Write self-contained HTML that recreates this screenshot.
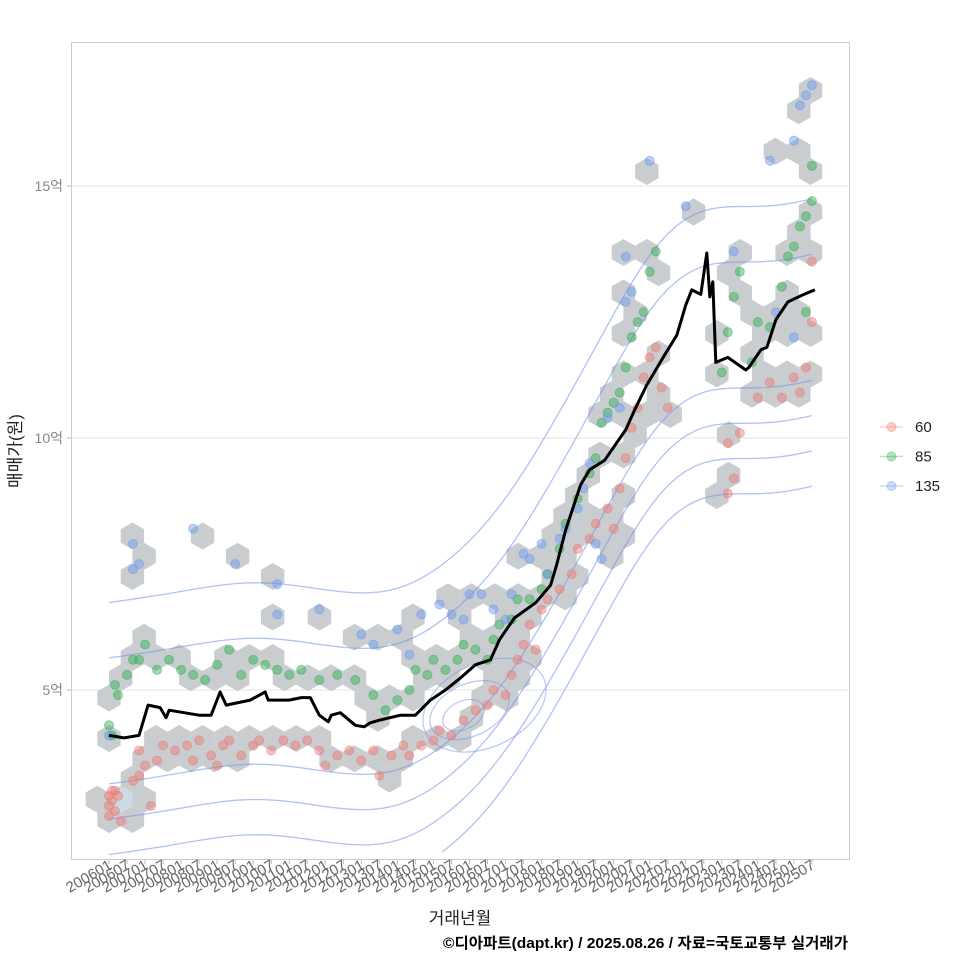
<!DOCTYPE html>
<html><head><meta charset="utf-8">
<style>
html,body{margin:0;padding:0;background:#fff;}
svg{display:block;font-family:"Liberation Sans","Noto Sans CJK KR",sans-serif;}
</style></head>
<body>
<svg id="chart" width="960" height="960" viewBox="0 0 960 960" xmlns="http://www.w3.org/2000/svg">
<rect x="0" y="0" width="960" height="960" fill="#fff"/>
<g id="grid"></g>
<g id="hexes"></g>
<g id="contours"></g>
<g id="points"></g>
<g id="line"></g>
<rect x="71.5" y="42.5" width="778" height="817" fill="none" stroke="#cccccc" stroke-width="1"/>
<g id="axes"></g>
<text x="460" y="924" font-size="17" fill="#222" text-anchor="middle">거래년월</text>
<text transform="translate(21,451) rotate(-90)" font-size="17" fill="#222" text-anchor="middle">매매가(원)</text>
<text x="848" y="948" font-size="15" font-weight="bold" fill="#000" text-anchor="end" textLength="405" lengthAdjust="spacingAndGlyphs">©디아파트(dapt.kr) / 2025.08.26 / 자료=국토교통부 실거래가</text>
<g id="legend"></g>
</svg>
<script>
// ---- data ----
const lineMonths = [0,5,10,13,17,19,20,30,34,37,39,47,52,53,57,60,64,67,70,73,74,77,82,85,87,90,97,102,107,112,117,122,127,130,135,142,147,149,152,157,160,165,168,172,175,179,182,185,189,192,194,197,199,200,201,202,206,212,213,217,219,222,226,231,235];
const lineValues = [4.1,4.05,4.1,4.7,4.65,4.45,4.6,4.5,4.5,4.96,4.7,4.8,4.96,4.8,4.8,4.8,4.85,4.85,4.5,4.37,4.5,4.55,4.3,4.27,4.35,4.4,4.5,4.5,4.8,5.0,5.24,5.5,5.6,6.0,6.43,6.73,7.08,7.48,8.17,9.07,9.37,9.56,9.82,10.16,10.56,11.05,11.35,11.65,12.04,12.64,12.94,12.85,13.67,12.8,13.1,11.5,11.6,11.35,11.4,11.75,11.8,12.35,12.7,12.84,12.94];

const redMonths = [0,0,1,1,2,2,3,0,4,8,10,12,10,14,16,18,22,26,28,30,34,36,38,40,44,48,50,54,58,62,66,70,72,76,80,84,88,90,94,98,100,104,108,110,114,118,122,126,128,132,134,136,138,140,142,144,146,150,154,156,160,162,166,168,170,172,174,176,178,180,182,184,186,206,208,206,210,216,220,224,228,230,232,234,234];
const redValues = [2.7,2.9,3.0,2.8,2.6,3.0,2.9,2.5,2.4,3.2,3.3,3.5,3.8,2.7,3.6,3.9,3.8,3.9,3.6,4.0,3.7,3.5,3.9,4.0,3.7,3.9,4.0,3.8,4.0,3.9,4.0,3.8,3.5,3.7,3.8,3.6,3.8,3.3,3.7,3.9,3.7,3.9,4.0,4.2,4.1,4.4,4.6,4.7,5.0,4.9,5.3,5.6,5.9,6.3,5.8,6.6,6.8,7.0,7.3,7.8,8.0,8.3,8.6,8.2,9.0,9.6,10.2,10.6,11.2,11.6,11.8,11.0,10.6,9.9,9.2,8.9,10.1,10.8,11.1,10.8,11.2,10.9,11.4,12.3,13.5];

const greenMonths = [0,1,2,3,6,8,10,12,16,20,24,28,32,36,40,44,48,52,56,60,64,70,76,82,88,92,96,100,102,106,108,112,116,118,122,126,128,130,134,136,140,144,146,150,152,156,160,162,164,166,168,170,172,174,176,178,180,182,204,206,208,210,214,216,220,224,226,228,230,232,234,234,232];
const greenValues = [4.3,4.1,5.1,4.9,5.3,5.6,5.6,5.9,5.4,5.6,5.4,5.3,5.2,5.5,5.8,5.3,5.6,5.5,5.4,5.3,5.4,5.2,5.3,5.2,4.9,4.6,4.8,5.0,5.4,5.3,5.6,5.4,5.6,5.9,5.8,5.6,6.0,6.3,6.4,6.8,6.8,7.0,7.3,7.8,8.3,8.8,9.3,9.6,10.3,10.5,10.7,10.9,11.4,12.0,12.3,12.5,13.3,13.7,11.3,12.1,12.8,13.3,11.5,12.3,12.2,13.0,13.6,13.8,14.2,14.4,14.7,15.4,12.5];

const blueMonths = [0,8,8,10,28,42,56,56,70,84,88,96,100,104,110,114,118,120,124,128,132,134,138,140,144,146,150,152,156,158,160,162,164,166,170,172,174,172,180,192,208,220,228,230,234,232,222,228];
const blueValues = [4.1,7.4,7.9,7.5,8.2,7.5,7.1,6.5,6.6,6.1,5.9,6.2,5.7,6.5,6.7,6.5,6.4,6.9,6.9,6.6,6.4,6.9,7.7,7.6,7.9,7.3,8.0,8.2,8.6,9.0,9.5,7.9,7.6,10.4,10.6,12.7,12.9,13.6,15.5,14.6,13.7,15.5,15.9,16.6,17.0,16.8,12.5,12.0];

const yTicks = [5,10,15];
const yTickLabels = ["5억","10억","15억"];
const xTickMonths = [];
const xTickLabels = [];
for (let y=2006;y<=2025;y++){ for (const mm of [1,7]){ xTickMonths.push((y-2006)*12+mm-1); xTickLabels.push(y+(mm<10?"0":"")+mm);} }
const legendLabels = ["60","85","135"];
const contourOffsets = [2.4,1.3,-1.2,-1.9,-2.6,-3.3];

// ---- scales ----
const X0=109, PXM=3.004;
function xs(m){return X0+m*PXM;}
function ys(v){return 690-(v-5)*50.4;}
const NS="http://www.w3.org/2000/svg";
function mk(tag, attrs, parent){const e=document.createElementNS(NS,tag);for(const k in attrs)e.setAttribute(k,attrs[k]);parent.appendChild(e);return e;}

const grid=document.getElementById('grid'), axes=document.getElementById('axes');
yTicks.forEach((t,i)=>{
  const gl=mk('line',{x1:72,x2:849,y1:ys(t),y2:ys(t),stroke:'#e3e3e3','stroke-width':1},grid);
  
  
  const tk=mk('line',{x1:67,x2:71,y1:ys(t),y2:ys(t),stroke:'#bbb'},axes);
  
  
  const tx=mk('text',{x:63,y:ys(t)+5,'font-size':14,fill:'#888','text-anchor':'end'},axes);
  tx.textContent=yTickLabels[i];
  
  
});
xTickMonths.forEach((m,i)=>{
  const x=xs(m);
  const tk=mk('line',{x1:x,x2:x,y1:860,y2:864,stroke:'#bbb'},axes);
  
  
  const tx=mk('text',{transform:`translate(${x+4},${868}) rotate(-30)`,'font-size':15,fill:'#666','text-anchor':'end'},axes);
  tx.textContent=xTickLabels[i];
  
  
});

// hexbins
const R=13.5, HW=R*Math.sqrt(3), HV=1.5*R;
const allPts=[];
[[redMonths,redValues],[greenMonths,greenValues],[blueMonths,blueValues]].forEach(([ms,vs])=>ms.forEach((m,i)=>allPts.push([xs(m),ys(vs[i])])));
const cells={};
allPts.forEach(([px,py])=>{
  const oy=860;
  const r=Math.round((oy-py)/HV);
  let best=null,bd=1e9;
  for(let rr=r-1;rr<=r+1;rr++){
    const off=(rr%2!==0)?HW/2:0;
    const c=Math.round((px-X0-off)/HW);
    for(let cc=c-1;cc<=c+1;cc++){
      const cx=X0+off+cc*HW, cy=oy-rr*HV;
      const d=(cx-px)**2+(cy-py)**2;
      if(d<bd){bd=d;best=[cx,cy];}
    }
  }
  const k=best[0].toFixed(1)+','+best[1].toFixed(1);
  cells[k]=(cells[k]||0)+1;
});
const hexG=document.getElementById('hexes');
Object.keys(cells).forEach(k=>{
  const [cx,cy]=k.split(',').map(Number);
  let p=[];
  for(let a=0;a<6;a++){const ang=Math.PI/180*(60*a-90);p.push((cx+R*Math.cos(ang)).toFixed(1)+','+(cy+R*Math.sin(ang)).toFixed(1));}
  const h=mk('polygon',{points:p.join(' '),fill:cells[k]>=4?'#c9d9e5':'#c6cacd','fill-opacity':0.95},hexG);
  
  
});

// contours
const cg=document.getElementById('contours');
function smoothAt(m){
  let s=0,w=0;
  lineMonths.forEach((lm,i)=>{const d=(lm-m)/22;const ww=Math.exp(-d*d);s+=ww*lineValues[i];w+=ww;});
  return s/w;
}
contourOffsets.forEach(off=>{
  let d='';
  for(let m=0;m<=235;m+=3){
    const v=smoothAt(m)+off;
    const y=ys(v);
    if(y<45||y>858) continue;
    d+=(d?'L':'M')+xs(m).toFixed(1)+','+y.toFixed(1);
  }
  const p=mk('path',{d:d,fill:'none',stroke:'#6f8fe8','stroke-opacity':0.55,'stroke-width':1.3},cg);
  
  
});
[[118,4.5,22,14],[120,4.6,42,26],[125,4.7,65,42]].forEach(([m,v,rx,ry])=>{
  const e=mk('ellipse',{cx:xs(m),cy:ys(v),rx:rx,ry:ry,transform:`rotate(-25 ${xs(m)} ${ys(v)})`,fill:'none',stroke:'#6f8fe8','stroke-opacity':0.5,'stroke-width':1.2},cg);
  
  
});

// points
const pg=document.getElementById('points');
const series=[[redMonths,redValues,'#f07870','point-60'],[greenMonths,greenValues,'#2fb050','point-85'],[blueMonths,blueValues,'#6b9af0','point-135']];
series.forEach(([ms,vs,col,nm])=>{
  ms.forEach((m,i)=>{
    const c=mk('circle',{cx:xs(m),cy:ys(vs[i]),r:4.5,fill:col,'fill-opacity':0.45,stroke:col,'stroke-opacity':0.5},pg);
    
    
  });
});

// median line
const lg=document.getElementById('line');
let ld='';
lineMonths.forEach((m,i)=>{ld+=(i?'L':'M')+xs(m).toFixed(1)+','+ys(lineValues[i]).toFixed(1);});
const lp=mk('path',{d:ld,fill:'none',stroke:'#000','stroke-width':3,'stroke-linejoin':'round'},lg);



// legend
const leg=document.getElementById('legend');
const legCols=['#f07870','#2fb050','#6b9af0'];
legendLabels.forEach((t,i)=>{
  const y=427+i*29.5;
  const g=mk('g',{},leg);
  
  
  mk('line',{x1:880,x2:903,y1:y,y2:y,stroke:legCols[i],'stroke-opacity':0.35,'stroke-width':1.5},g);
  mk('circle',{cx:891.5,cy:y,r:4.5,fill:legCols[i],'fill-opacity':0.35,stroke:legCols[i],'stroke-opacity':0.4},g);
  const tx=mk('text',{x:915,y:y+5,'font-size':15,fill:'#222'},g);
  tx.textContent=t;
});
</script>
</body></html>
